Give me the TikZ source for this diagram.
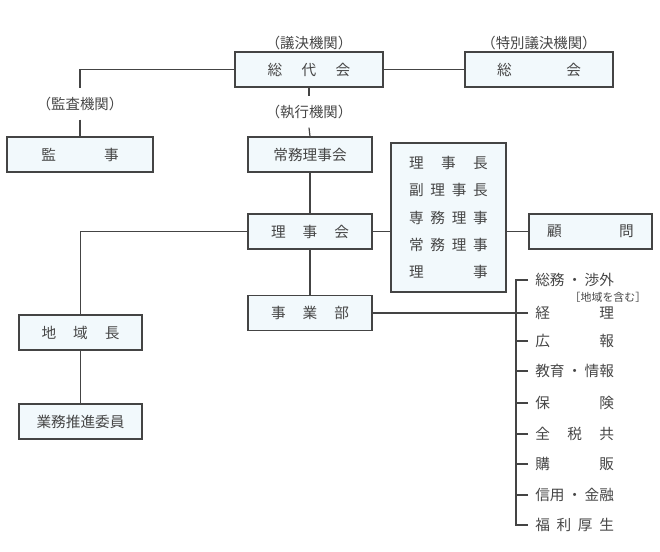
\documentclass[tikz,border=0pt]{standalone}
\usepackage{fontspec}
\newfontfamily\jpfont{Noto Sans CJK JP}
\definecolor{linegray}{RGB}{68,68,68}
\definecolor{textgray}{RGB}{70,70,70}
\definecolor{boxfill}{RGB}{242,249,252}
\newcommand{\spr}[2][58.5pt]{\makebox[#1]{#2}}

\begin{document}
\begin{tikzpicture}[x=0.75pt,y=0.75pt,yscale=-1,xscale=1,
  box/.style={draw=linegray, fill=boxfill, line width=0.9pt, inner sep=0pt,
    minimum height=26.25pt, text=textgray, font=\jpfont\fontsize{11}{12}\selectfont},
  widebox/.style={box, minimum width=111pt},
  midbox/.style={box, minimum width=93pt},
  kikan/.style={inner sep=0pt, minimum height=23pt, text=textgray,
    font=\jpfont\fontsize{10.8}{12}\selectfont},
  item/.style={anchor=west, inner sep=0pt, text=textgray,
    font=\jpfont\fontsize{11}{12}\selectfont},
  conn/.style={draw=linegray, line width=0.9pt}]
\useasboundingbox (0,0) rectangle (660,552);

% Boxes
\node[widebox] (sodaikai) at (309,69.5) {\spr[62pt]{総\hfill 代\hfill 会}};
\node[widebox] (sokai) at (539,69.5) {\spr[63pt]{総\hfill 会}};
\node[box, minimum width=109.5pt] (kanji) at (80,154.5) {\spr[58pt]{監\hfill 事}};
\node[midbox] (jomu) at (310,154.5) {常務理事会};
\node[midbox] (rijikai) at (310,231.5) {\spr{理\hfill 事\hfill 会}};
\node[midbox] (jigyobu) at (310,313) {\spr{事\hfill 業\hfill 部}};
\node[midbox, minimum width=92.25pt] (komon) at (590.5,231.5) {\spr[65pt]{顧\hfill 問}};
\node[midbox, minimum width=92.25pt] (chiiki) at (80.5,332.5) {\spr{地\hfill 域\hfill 長}};
\node[midbox, minimum width=92.25pt] (suishin) at (80.5,421.5) {業務推進委員};
\node[box, minimum width=86.25pt, minimum height=111.75pt, align=left,
  font=\jpfont\fontsize{11}{20.6}\selectfont] (yakuin) at (448.5,217.5)
  {\spr[59pt]{理\hfill 事\hfill 長}\\
   \spr[59pt]{副\hfill 理\hfill 事\hfill 長}\\
   \spr[59pt]{専\hfill 務\hfill 理\hfill 事}\\
   \spr[59pt]{常\hfill 務\hfill 理\hfill 事}\\
   \spr[59pt]{理\hfill 事}};

% Text Node
\node[kikan] (giketsu) at (309,43) {（議決機関）};
\node[kikan] (tokubetsu) at (539,43) {（特別議決機関）};
\node[kikan] (kansa) at (80,104) {（監査機関）};
\node[kikan] (shikko) at (309,112) {（執行機関）};

% Departments
\node[item] (somu) at (535,280) {\spr[59pt]{総務\hfill ・\hfill 渉外}};
\node[inner sep=0pt, text=textgray, font=\jpfont\fontsize{8.2}{9}\selectfont] (chiikinote) at (608,297) {［地域を含む］};
\node[item] (keiri) at (535,313) {\spr[59pt]{経\hfill 理}};
\node[item] (koho) at (535,341) {\spr[59pt]{広\hfill 報}};
\node[item] (kyoiku) at (535,371) {\spr[59pt]{教育\hfill ・\hfill 情報}};
\node[item] (hoken) at (535,403) {\spr[59pt]{保\hfill 険}};
\node[item] (zenzei) at (535,434) {\spr[59pt]{全\hfill 税\hfill 共}};
\node[item] (kohan) at (535,464) {\spr[59pt]{購\hfill 販}};
\node[item] (shinyo) at (535,495) {\spr[59pt]{信用\hfill ・\hfill 金融}};
\node[item] (fukuri) at (535,525) {\spr[59pt]{福\hfill 利\hfill 厚\hfill 生}};

% Connectors
\draw[conn] (sodaikai.east) -- (sokai.west);
\draw[conn] (sodaikai.west) -| (kansa.north);
\draw[conn] (kansa.south) -- (kanji.north);
\draw[conn] (sodaikai.south) -- (shikko.north);
\draw[conn] (shikko.south) -- (jomu.north);
\draw[conn] (jomu.south) -- (rijikai.north);
\draw[conn] (rijikai.south) -- (jigyobu.north);
\draw[conn] (rijikai.east) -- (rijikai.east -| yakuin.west);
\draw[conn] (yakuin.east |- komon.west) -- (komon.west);
\draw[conn] (rijikai.west) -| (chiiki.north);
\draw[conn] (chiiki.south) -- (suishin.north);
\draw[conn] (jigyobu.east) -- ([xshift=-14.25pt]keiri.west |- jigyobu.east);

% Bracket
\draw[conn] ([xshift=-5.25pt]somu.west) -| ([xshift=-14.25pt]fukuri.west) -- ([xshift=-5.25pt]fukuri.west);
\foreach \n in {keiri,koho,kyoiku,hoken,zenzei,kohan,shinyo}
  \draw[conn] ([xshift=-5.25pt]\n.west) -- ([xshift=-14.25pt]\n.west);

\end{tikzpicture}
\end{document}
